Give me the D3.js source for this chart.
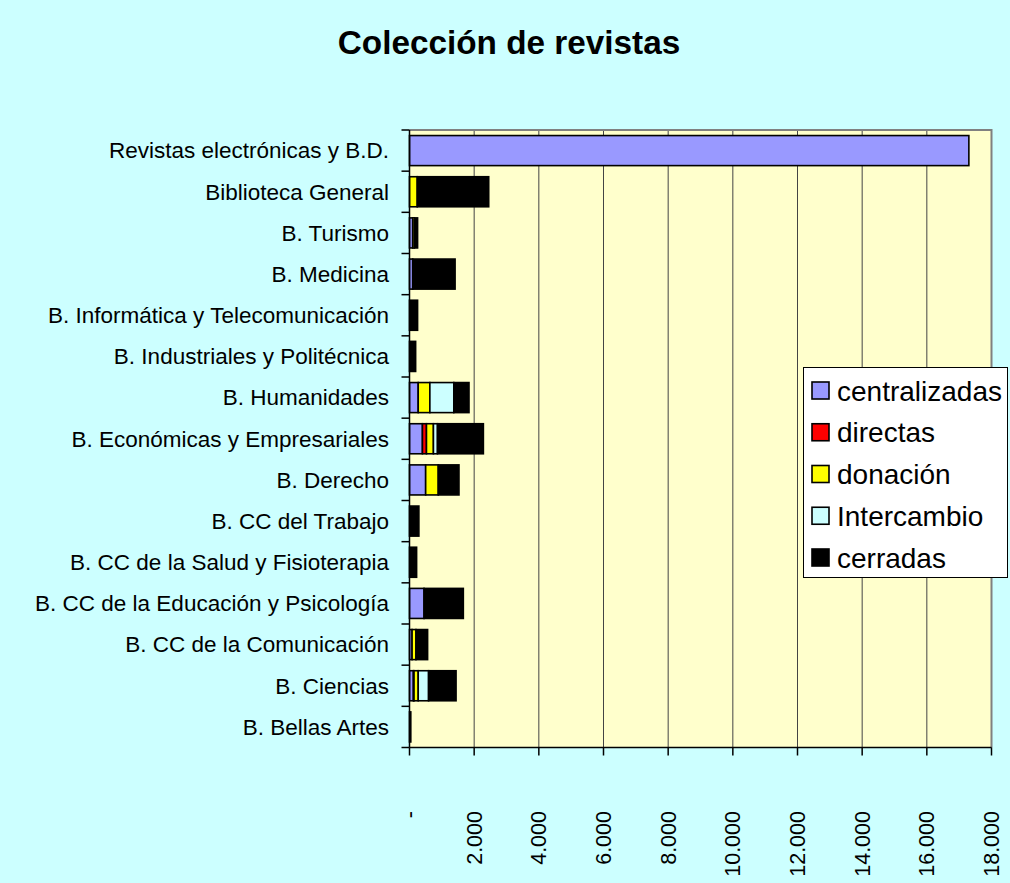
<!DOCTYPE html>
<html>
<head>
<meta charset="utf-8">
<script src="https://cdn.jsdelivr.net/npm/d3@7"></script>
<style>
html,body{margin:0;padding:0;background:#CCFFFF;}
svg{display:block;font-family:"Liberation Sans",Arial,sans-serif;}
</style>
</head>
<body>
<svg id="chart" width="1010" height="883"></svg>
<script>
const categories = ["Revistas electrónicas y B.D.", "Biblioteca General", "B. Turismo", "B. Medicina",
  "B. Informática y Telecomunicación", "B. Industriales y Politécnica", "B. Humanidades",
  "B. Económicas y Empresariales", "B. Derecho", "B. CC del Trabajo", "B. CC de la Salud y Fisioterapia",
  "B. CC de la Educación y Psicología", "B. CC de la Comunicación", "B. Ciencias", "B. Bellas Artes"];
const seriesNames = ["centralizadas", "directas", "donación", "Intercambio", "cerradas"];
const centralizadas = [17300, 0, 100, 100, 0, 0, 270, 400, 500, 0, 0, 450, 80, 120, 0];
const directas      = [0, 0, 0, 0, 0, 0, 0, 125, 0, 0, 0, 0, 0, 20, 0];
const donacion      = [0, 240, 50, 0, 0, 0, 360, 215, 390, 0, 0, 0, 120, 130, 0];
const intercambio   = [0, 0, 0, 0, 0, 0, 740, 125, 0, 0, 0, 0, 0, 320, 0];
const cerradas      = [0, 2210, 100, 1310, 250, 190, 470, 1420, 640, 290, 220, 1215, 360, 850, 40];
const colors = ["#9999FF", "#FF0000", "#FFFF00", "#CCFFFF", "#000000"];
const xTicks = [0, 2000, 4000, 6000, 8000, 10000, 12000, 14000, 16000, 18000];
const title = "Colección de revistas";

(function () {
const svg = d3.select("#chart");
svg.append("rect").attr("width", 1010).attr("height", 883).attr("fill", "#CCFFFF");

const pL = 409.5, pR = 991.5, pT = 130, pB = 747.5;
const x = d3.scaleLinear().domain([0, 18000]).range([pL, pR]);
const y = d3.scaleBand().domain(categories).range([pT, pB]).padding(0);
const barFrac = 0.73;

// plot area
svg.append("rect").attr("x", pL).attr("y", pT).attr("width", pR - pL).attr("height", pB - pT)
  .attr("fill", "#FFFFCC");

// gridlines
svg.append("g").selectAll("line").data(xTicks.slice(1)).join("line")
  .attr("x1", d => x(d)).attr("x2", d => x(d)).attr("y1", pT).attr("y2", pB)
  .attr("stroke", "#444").attr("stroke-width", 1);

// plot border top/right
svg.append("path").attr("d", `M${pL},${pT}H${pR}V${pB}`).attr("fill", "none")
  .attr("stroke", "#808080").attr("stroke-width", 2);

// stacked data
const rows = categories.map((c, i) => ({
  cat: c, centralizadas: centralizadas[i], directas: directas[i], "donación": donacion[i],
  Intercambio: intercambio[i], cerradas: cerradas[i]
}));
const stack = d3.stack().keys(seriesNames)(rows);

const bh = y.bandwidth() * barFrac;
const off = (y.bandwidth() - bh) / 2;
stack.forEach((layer, si) => {
  svg.append("g").selectAll("rect").data(layer.filter(d => d[1] - d[0] > 0)).join("rect")
    .attr("x", d => x(d[0])).attr("width", d => x(d[1]) - x(d[0]))
    .attr("y", d => y(d.data.cat) + off).attr("height", bh)
    .attr("fill", colors[si]).attr("stroke", "#000").attr("stroke-width", 1.6);
});

// x axis
const xAxisG = svg.append("g").attr("transform", `translate(0,${pB})`);
xAxisG.append("line").attr("x1", pL).attr("x2", pR).attr("stroke", "#000").attr("stroke-width", 1.5);
xAxisG.selectAll("line.tick").data(xTicks).join("line").attr("class", "tick")
  .attr("x1", d => x(d)).attr("x2", d => x(d)).attr("y1", 0).attr("y2", 8)
  .attr("stroke", "#000").attr("stroke-width", 1.5);
const fmt = d => d === 0 ? "-" : d3.format(",")(d).replace(/,/g, ".");
svg.append("g").selectAll("text").data(xTicks).join("text")
  .attr("transform", d => `translate(${x(d)},811) rotate(-90)`)
  .attr("text-anchor", "end").attr("dy", "0.35em")
  .attr("font-size", 21.5).attr("fill", "#000").text(fmt);

// y axis
svg.append("line").attr("x1", pL).attr("x2", pL).attr("y1", pT).attr("y2", pB)
  .attr("stroke", "#000").attr("stroke-width", 1.5);
const bounds = categories.map(c => y(c)).concat([pB]);
svg.append("g").selectAll("line").data(bounds).join("line")
  .attr("x1", pL - 8).attr("x2", pL).attr("y1", d => d).attr("y2", d => d)
  .attr("stroke", "#000").attr("stroke-width", 1.5);
svg.append("g").selectAll("text").data(categories).join("text")
  .attr("x", 389).attr("y", d => y(d) + y.bandwidth() / 2).attr("dy", "0.35em")
  .attr("text-anchor", "end").attr("font-size", 22.5).attr("fill", "#000").text(d => d);

// title
svg.append("text").attr("x", 509).attr("y", 54).attr("text-anchor", "middle")
  .attr("font-size", 33.3).attr("font-weight", "bold").attr("fill", "#000").text(title);

// legend
const lg = svg.append("g");
lg.append("rect").attr("x", 803.5).attr("y", 367.5).attr("width", 204).attr("height", 210)
  .attr("fill", "#FFFFFF").attr("stroke", "#000").attr("stroke-width", 1);
seriesNames.forEach((s, i) => {
  const cy = 390.5 + i * 41.75;
  lg.append("rect").attr("x", 812).attr("y", cy - 8.5).attr("width", 17).attr("height", 17)
    .attr("fill", colors[i]).attr("stroke", "#000").attr("stroke-width", 1.6);
  lg.append("text").attr("x", 837).attr("y", cy).attr("dy", "0.36em")
    .attr("font-size", 28).attr("fill", "#000").text(s);
});
})();
</script>
</body>
</html>
